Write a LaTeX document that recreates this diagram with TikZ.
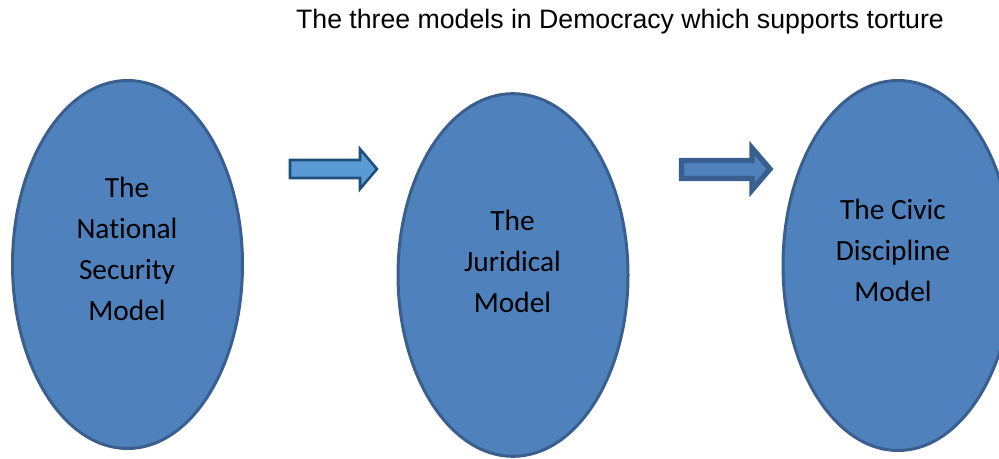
\documentclass[tikz,border=0pt]{standalone}
\usepackage{fontspec}
\setmainfont{Carlito}[Ligatures=NoCommon]
\newfontfamily\titlefont{Liberation Sans}
\usepackage{tikz}
\usetikzlibrary{shapes}
\usepackage{xcolor}
\definecolor{ellfill}{HTML}{4F81BD}
\definecolor{elldraw}{HTML}{3A5F8E}
\definecolor{arrfill}{HTML}{5B9BD5}
\definecolor{arrdraw}{HTML}{1F4E79}

\begin{document}
\begin{tikzpicture}[x=0.75pt, y=-0.75pt, model node/.style={ellipse, draw=elldraw, fill=ellfill, line width=2.25pt, inner sep=0pt, minimum width=172.5pt}, label node/.style={align=center, inner sep=0pt, font=\fontsize{22}{30.75}\selectfont}, light arrow/.style={draw=arrdraw, fill=arrfill, line width=1.9pt, line join=miter}, dark arrow/.style={draw=elldraw, fill=ellfill, line width=4pt, line join=miter}]
\useasboundingbox (0,0) rectangle (999,459);
\node[anchor=base, inner sep=0pt, font=\titlefont\fontsize{20}{22}\selectfont] (t) at (620,29) {The three models in Democracy which supports torture};
\node[model node, minimum height=276pt] (1) at (127.5,264.5) {};
\node[model node, minimum height=272pt] (2) at (513,275) {};
\node[model node, minimum height=277.5pt] (3) at (898,265.5) {};
\node[label node] (l1) at (127,249) {The\\National\\Security\\Model};
\node[label node] (l2) at (512.5,261) {The\\Juridical\\Model};
\node[label node] (l3) at (893,250) {The Civic\\Discipline\\Model};
\draw[light arrow] (290,160) -- (360,160) -- (360,149) -- (377,169) -- (360,189) -- (360,178) -- (290,178) -- cycle;
\draw[dark arrow] (681.5,160.5) -- (752,160.5) -- (752,148) -- (770,169) -- (752,190) -- (752,178.5) -- (681.5,178.5) -- cycle;
\end{tikzpicture}
\end{document}
